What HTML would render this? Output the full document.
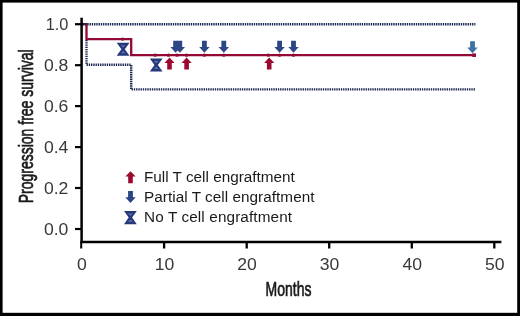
<!DOCTYPE html>
<html><head><meta charset="utf-8"><style>
html,body{margin:0;padding:0;background:#fff;}
svg{display:block;will-change:transform;}
text{font-family:"Liberation Sans",sans-serif;fill:#1a1a1a;}
.tk{font-size:16px;fill:#383838;}
.ti{font-size:20.3px;stroke:#1a1a1a;stroke-width:0.7px;}
.lg{font-size:15.3px;}
</style></head><body>
<svg width="520" height="316" viewBox="0 0 520 316">
<rect x="0" y="0" width="520" height="316" fill="#000"/>
<rect x="2.6" y="2.6" width="514.6" height="310.2" fill="#fff"/>
<path d="M86.5 40 V64.7 H131.2 V89.4 H475.4" fill="none" stroke="#17244f" stroke-width="2.4" stroke-dasharray="1.35 0.9"/>
<path d="M81.6 24.2 H86.5 V39.1 H131.2 V55.2 H475.6" fill="none" stroke="#920a34" stroke-width="2.3"/>
<path d="M82.8 24.2 H475.4" fill="none" stroke="#17244f" stroke-width="2.4" stroke-dasharray="1.35 0.9"/>
<ellipse cx="122.6" cy="39.1" rx="1.9" ry="1.6" fill="#920a34"/>
<ellipse cx="155.2" cy="55.2" rx="1.9" ry="1.6" fill="#920a34"/>
<ellipse cx="168.5" cy="55.2" rx="1.9" ry="1.6" fill="#920a34"/>
<ellipse cx="177.0" cy="55.2" rx="1.9" ry="1.6" fill="#920a34"/>
<ellipse cx="186.5" cy="55.2" rx="1.9" ry="1.6" fill="#920a34"/>
<ellipse cx="204.4" cy="55.2" rx="1.9" ry="1.6" fill="#920a34"/>
<ellipse cx="223.8" cy="55.2" rx="1.9" ry="1.6" fill="#920a34"/>
<ellipse cx="268.3" cy="55.2" rx="1.9" ry="1.6" fill="#920a34"/>
<ellipse cx="279.6" cy="55.2" rx="1.9" ry="1.6" fill="#920a34"/>
<ellipse cx="293.5" cy="55.2" rx="1.9" ry="1.6" fill="#920a34"/>
<rect x="472.3" y="53.4" width="3.6" height="3.6" fill="#920a34"/>
<path d="M81.6 17.7 V243" stroke="#000" stroke-width="2.5"/>
<path d="M80.4 242 H501.4" stroke="#000" stroke-width="2.5"/>
<path d="M75 229.0 H81" stroke="#000" stroke-width="2.2"/>
<text transform="translate(68.4 234.6) scale(1.1 1)" text-anchor="end" class="tk">0.0</text>
<path d="M75 188.0 H81" stroke="#000" stroke-width="2.2"/>
<text transform="translate(68.4 193.6) scale(1.1 1)" text-anchor="end" class="tk">0.2</text>
<path d="M75 147.1 H81" stroke="#000" stroke-width="2.2"/>
<text transform="translate(68.4 152.7) scale(1.1 1)" text-anchor="end" class="tk">0.4</text>
<path d="M75 106.1 H81" stroke="#000" stroke-width="2.2"/>
<text transform="translate(68.4 111.7) scale(1.1 1)" text-anchor="end" class="tk">0.6</text>
<path d="M75 65.2 H81" stroke="#000" stroke-width="2.2"/>
<text transform="translate(68.4 70.8) scale(1.1 1)" text-anchor="end" class="tk">0.8</text>
<path d="M75 24.2 H81" stroke="#000" stroke-width="2.2"/>
<text transform="translate(68.4 29.8) scale(1.02 1)" text-anchor="end" class="tk">1.0</text>
<path d="M81.2 242 V248.5" stroke="#000" stroke-width="2.0"/>
<text transform="translate(82.0 269.8) scale(1.1 1)" text-anchor="middle" class="tk">0</text>
<path d="M164.1 242 V248.5" stroke="#000" stroke-width="2.3"/>
<text transform="translate(164.5 269.8) scale(1.1 1)" text-anchor="middle" class="tk">10</text>
<path d="M246.7 242 V248.5" stroke="#000" stroke-width="2.3"/>
<text transform="translate(247.1 269.8) scale(1.1 1)" text-anchor="middle" class="tk">20</text>
<path d="M329.2 242 V248.5" stroke="#000" stroke-width="2.3"/>
<text transform="translate(329.6 269.8) scale(1.1 1)" text-anchor="middle" class="tk">30</text>
<path d="M411.8 242 V248.5" stroke="#000" stroke-width="2.3"/>
<text transform="translate(412.2 269.8) scale(1.1 1)" text-anchor="middle" class="tk">40</text>
<path d="M494.3 242 V248.5" stroke="#000" stroke-width="2.3"/>
<text transform="translate(494.7 269.8) scale(1.1 1)" text-anchor="middle" class="tk">50</text>
<text transform="translate(288.5 295.6) scale(0.69 1)" text-anchor="middle" class="ti">Months</text>
<text transform="translate(33.0 126.3) rotate(-90) scale(0.69 1)" text-anchor="middle" class="ti">Progression free survival</text>
<path d="M116.70 42.75 H129.50 L124.80 49.30 L129.50 55.85 H116.70 L121.40 49.30 Z" fill="#26387a"/><path d="M120.70 45.25 H125.50 L123.10 47.50 Z M120.70 53.35 H125.50 L123.10 51.10 Z" fill="#5c72b4"/>
<path d="M149.80 58.45 H162.60 L157.90 65.00 L162.60 71.55 H149.80 L154.50 65.00 Z" fill="#26387a"/><path d="M153.80 60.95 H158.60 L156.20 63.20 Z M153.80 69.05 H158.60 L156.20 66.80 Z" fill="#5c72b4"/>
<path d="M169.5 57.6 L174.6 63.0 H171.8 V69.6 H167.2 V63.0 H164.4 Z" fill="#9a0830"/>
<path d="M186.6 57.6 L191.7 63.0 H188.9 V69.6 H184.3 V63.0 H181.5 Z" fill="#9a0830"/>
<path d="M269.2 57.6 L274.3 63.0 H271.5 V69.6 H266.9 V63.0 H264.1 Z" fill="#9a0830"/>
<path d="M173.2 40.8 H178.0 V47.1 H180.8 L175.6 52.7 L170.4 47.1 H173.2 Z" fill="#2b4585"/>
<path d="M177.4 40.8 H182.2 V47.1 H185.0 L179.8 52.7 L174.6 47.1 H177.4 Z" fill="#2b4585"/>
<path d="M202.0 40.8 H206.8 V47.1 H209.6 L204.4 52.7 L199.2 47.1 H202.0 Z" fill="#2b4585"/>
<path d="M221.4 40.8 H226.2 V47.1 H229.0 L223.8 52.7 L218.6 47.1 H221.4 Z" fill="#2b4585"/>
<path d="M277.2 40.8 H282.0 V47.1 H284.8 L279.6 52.7 L274.4 47.1 H277.2 Z" fill="#2b4585"/>
<path d="M291.1 40.8 H295.9 V47.1 H298.7 L293.5 52.7 L288.3 47.1 H291.1 Z" fill="#2b4585"/>
<path d="M470.1 41.3 H474.9 V47.6 H477.7 L472.5 53.2 L467.3 47.6 H470.1 Z" fill="#3d6fa3"/>
<path d="M130.5 171.2 L135.6 176.6 H132.8 V183.2 H128.2 V176.6 H125.4 Z" fill="#9a0830"/>
<text x="144" y="181.6" class="lg">Full T cell engraftment</text>
<path d="M128.1 191.0 H132.9 V197.3 H135.7 L130.5 202.9 L125.3 197.3 H128.1 Z" fill="#2b4585"/>
<text x="144" y="202.2" class="lg" letter-spacing="0.04">Partial T cell engraftment</text>
<path d="M124.00 211.05 H136.80 L132.10 217.60 L136.80 224.15 H124.00 L128.70 217.60 Z" fill="#26387a"/><path d="M128.00 213.55 H132.80 L130.40 215.80 Z M128.00 221.65 H132.80 L130.40 219.40 Z" fill="#5c72b4"/>
<text x="144" y="222.4" class="lg" letter-spacing="0.12">No T cell engraftment</text>
</svg>
</body></html>
